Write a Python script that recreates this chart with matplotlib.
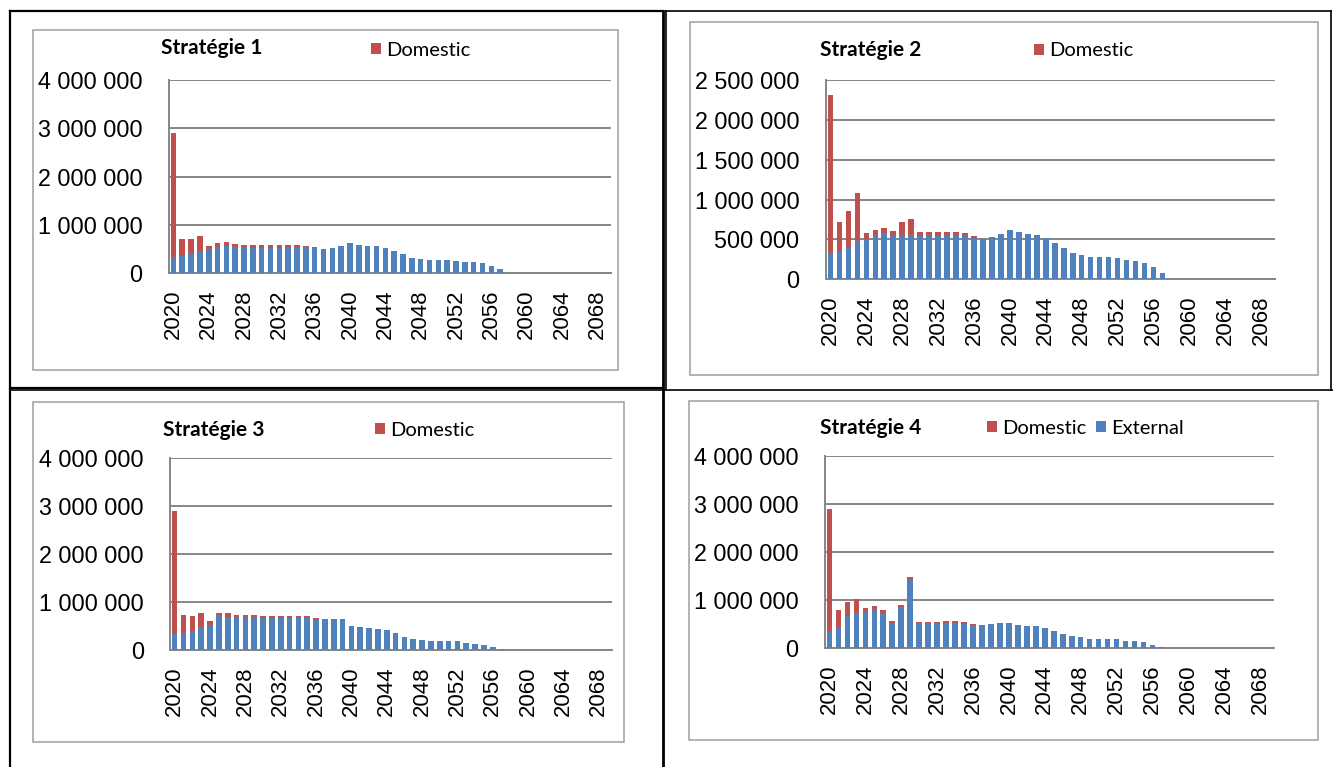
import matplotlib
matplotlib.use("Agg")
import matplotlib.pyplot as plt
from matplotlib.lines import Line2D
from matplotlib.patches import Rectangle
from matplotlib.ticker import FuncFormatter

# categories
years = list(range(2020, 2070))
tick_years = list(range(2020, 2069, 4))

# values in millions, years 2020..2057
s1_external = [0.33, 0.36, 0.41, 0.47, 0.50, 0.55, 0.57, 0.55, 0.54, 0.53,
               0.53, 0.53, 0.53, 0.535, 0.535, 0.535, 0.52, 0.50, 0.52, 0.57,
               0.62, 0.59, 0.57, 0.56, 0.52, 0.46, 0.39, 0.32, 0.30, 0.28,
               0.28, 0.28, 0.26, 0.24, 0.23, 0.21, 0.15, 0.09]
s1_domestic = [2.58, 0.36, 0.29, 0.30, 0.07, 0.07, 0.07, 0.06, 0.05, 0.05,
               0.05, 0.055, 0.055, 0.055, 0.055, 0.04, 0.02, 0, 0, 0,
               0, 0, 0, 0, 0, 0, 0, 0, 0, 0,
               0, 0, 0, 0, 0, 0, 0, 0]

s2_external = [0.335, 0.36, 0.41, 0.48, 0.50, 0.56, 0.58, 0.56, 0.55, 0.55,
               0.54, 0.54, 0.54, 0.55, 0.55, 0.54, 0.52, 0.51, 0.53, 0.57,
               0.62, 0.59, 0.565, 0.56, 0.52, 0.46, 0.39, 0.33, 0.31, 0.285,
               0.28, 0.28, 0.27, 0.24, 0.23, 0.21, 0.15, 0.08]
s2_domestic = [1.975, 0.36, 0.45, 0.60, 0.08, 0.06, 0.06, 0.04, 0.17, 0.21,
               0.05, 0.05, 0.05, 0.04, 0.045, 0.04, 0.02, 0, 0, 0,
               0, 0, 0, 0, 0, 0, 0, 0, 0, 0,
               0, 0, 0, 0, 0, 0, 0, 0]

s3_external = [0.33, 0.36, 0.40, 0.47, 0.53, 0.72, 0.69, 0.68, 0.68, 0.68,
               0.67, 0.67, 0.67, 0.67, 0.67, 0.66, 0.65, 0.64, 0.65, 0.64,
               0.51, 0.47, 0.45, 0.445, 0.41, 0.36, 0.28, 0.23, 0.21, 0.19,
               0.19, 0.19, 0.18, 0.15, 0.13, 0.11, 0.06, 0.015]
s3_domestic = [2.57, 0.36, 0.30, 0.30, 0.08, 0.06, 0.08, 0.05, 0.04, 0.04,
               0.035, 0.035, 0.035, 0.045, 0.045, 0.05, 0.02, 0, 0, 0,
               0, 0, 0, 0, 0, 0, 0, 0, 0, 0,
               0, 0, 0, 0, 0, 0, 0, 0]

s4_external = [0.35, 0.44, 0.67, 0.74, 0.75, 0.81, 0.73, 0.53, 0.85, 1.44,
               0.52, 0.52, 0.52, 0.53, 0.53, 0.51, 0.49, 0.48, 0.50, 0.53,
               0.53, 0.49, 0.465, 0.46, 0.415, 0.36, 0.30, 0.25, 0.225, 0.20,
               0.19, 0.19, 0.19, 0.155, 0.15, 0.13, 0.06, 0.02]
s4_domestic = [2.55, 0.35, 0.29, 0.29, 0.08, 0.065, 0.07, 0.04, 0.05, 0.05,
               0.03, 0.03, 0.03, 0.03, 0.03, 0.03, 0.02, 0, 0, 0,
               0, 0, 0, 0, 0, 0, 0, 0, 0, 0,
               0, 0, 0, 0, 0, 0, 0, 0]

titles = ["Stratégie 1", "Stratégie 2", "Stratégie 3", "Stratégie 4"]

RED = "#C0504D"
BLUE = "#4F81BD"
GRID = "#868686"
W, H = 1333, 767

# layout in pixels: plot area, chart frame, title pos, legend pos
panels = [
    dict(ext=s1_external, dom=s1_domestic, ymax=4.0, step=1.0,
         area=(169, 80, 610.5, 273.3), frame=(33, 30, 618, 370),
         title=(212, 48), leg=(371, 50), show_ext=False),
    dict(ext=s2_external, dom=s2_domestic, ymax=2.5, step=0.5,
         area=(826, 80, 1274.5, 279.3), frame=(690, 22, 1318, 375),
         title=(871, 50), leg=(1034, 51), show_ext=False),
    dict(ext=s3_external, dom=s3_domestic, ymax=4.0, step=1.0,
         area=(170.3, 458.3, 612, 650), frame=(33, 402, 624, 742),
         title=(214, 430), leg=(375, 430), show_ext=True and False),
    dict(ext=s4_external, dom=s4_domestic, ymax=4.0, step=1.0,
         area=(825, 456, 1273.5, 648.3), frame=(689, 401, 1318, 740),
         title=(871, 428), leg=(987, 428), show_ext=True),
]


def fx(x):
    return x / W


def fy(y):
    return 1 - y / H


def fmt_val(v, pos):
    n = int(round(v * 1e6))
    return f"{n:,}".replace(",", " ")


fig = plt.figure(figsize=(W / 100, H / 100), dpi=100)
fig.patch.set_facecolor("white")

for p, title in zip(panels, titles):
    # chart frame
    x0, y0, x1, y1 = p["frame"]
    fig.add_artist(Rectangle((fx(x0), fy(y1)), fx(x1 - x0), (y1 - y0) / H,
                             transform=fig.transFigure, fill=False,
                             edgecolor="#A6A6A6", linewidth=1.2))

    x0, y0, x1, y1 = p["area"]
    ax = fig.add_axes([fx(x0), fy(y1), fx(x1 - x0), (y1 - y0) / H])
    idx = list(range(len(p["ext"])))
    b_ext = ax.bar(idx, p["ext"], width=0.63, color=BLUE, label="External", zorder=3)
    b_dom = ax.bar(idx, p["dom"], bottom=p["ext"], width=0.63, color=RED,
                   label="Domestic", zorder=3)

    ax.set_xlim(-0.5, len(years) - 0.5)
    ax.set_ylim(0, p["ymax"])
    yt = []
    v = 0.0
    while v <= p["ymax"] + 1e-9:
        yt.append(v)
        v += p["step"]
    ax.set_yticks(yt)
    ax.yaxis.set_major_formatter(FuncFormatter(fmt_val))
    ax.set_xticks([years.index(y) for y in tick_years])
    ax.set_xticklabels([str(y) for y in tick_years], rotation=90)
    ax.grid(axis="y", color=GRID, linewidth=1.4, zorder=0)
    ax.set_axisbelow(True)
    for side in ("top", "right"):
        ax.spines[side].set_visible(False)
    for side in ("left", "bottom"):
        ax.spines[side].set_color(GRID)
        ax.spines[side].set_linewidth(1.4)
    ax.tick_params(axis="y", length=0, pad=19, labelsize=16.8)
    ax.tick_params(axis="x", length=0, pad=12, labelsize=16)
    for lab in ax.get_xticklabels() + ax.get_yticklabels():
        lab.set_fontfamily("Liberation Sans")

    tx, ty = p["title"]
    fig.text(fx(tx), fy(ty), title, ha="center", va="center",
             fontsize=15, fontweight="bold", family="Lato")

    handles = [b_dom, b_ext] if p["show_ext"] else [b_dom]
    lx, ly = p["leg"]
    ax.legend(handles=handles, loc="center left",
              bbox_to_anchor=(fx(lx), fy(ly)), bbox_transform=fig.transFigure,
              ncol=len(handles), frameon=False, borderpad=0, borderaxespad=0,
              handlelength=0.5, handleheight=0.5, handletextpad=0.25,
              columnspacing=0.5, prop=dict(family="Lato", size=14.5))

# table borders
def hline(y, xa, xb, lw):
    fig.add_artist(Line2D([fx(xa), fx(xb)], [fy(y), fy(y)], color="black",
                          linewidth=lw, transform=fig.transFigure))


def vline(x, ya, yb, lw):
    fig.add_artist(Line2D([fx(x), fx(x)], [fy(ya), fy(yb)], color="black",
                          linewidth=lw, transform=fig.transFigure))


hline(11, 10, 663, 1.6)
hline(11, 666, 1331, 1.2)
hline(388, 10, 663, 1.6)
hline(390, 10, 1333, 1.2)
vline(10, 11, 767, 1.6)
vline(663, 11, 767, 2.0)
vline(666, 11, 390, 1.2)
vline(1331, 11, 390, 1.2)

fig.savefig("out.png", dpi=100)
